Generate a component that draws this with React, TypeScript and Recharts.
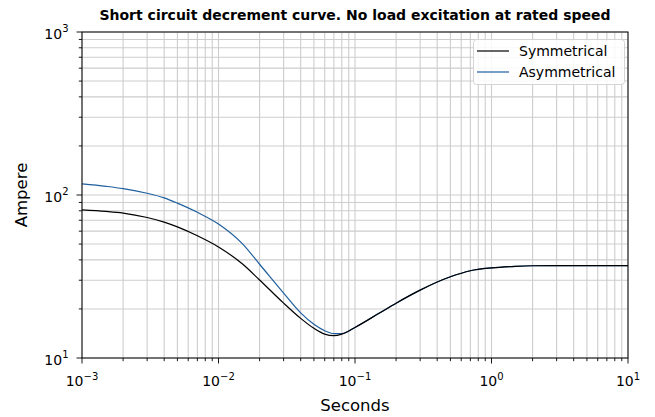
import { CartesianGrid, Line, LineChart, XAxis, YAxis } from "recharts";

const seconds = [
  0.001, 0.0015, 0.002, 0.003, 0.004, 0.005, 0.007, 0.01, 0.015, 0.02, 0.03, 0.04, 0.05, 0.06,
  0.07, 0.08, 0.1, 0.15, 0.2, 0.3, 0.5, 0.7, 1, 1.5, 2, 3, 5, 10,
];
const symmetrical = [
  81, 79.3, 77.5, 72.8, 68.2, 63.7, 56.2, 48, 37.7, 30.1, 21.7, 17.5, 15.2, 14.0,
  13.7, 14.0, 15.4, 18.8, 21.7, 26.1, 31.5, 34.3, 35.7, 36.5, 36.8, 36.9, 36.9, 36.9,
];
const asymmetrical = [
  117, 113, 109.5, 102.5, 96, 89.1, 78.3, 66.3, 50.1, 37.6, 25.0, 18.9, 16.1, 14.7,
  14.1, 14.1, 15.4, 18.8, 21.7, 26.1, 31.5, 34.3, 35.7, 36.5, 36.8, 36.9, 36.9, 36.9,
];

const xDecades = [-3, -2, -1, 0];
const yDecades = [1, 2];
const minorSteps = [1, 2, 3, 4, 5, 6, 7, 8, 9];

const buildTicks = (decades: number[], last: number) => [
  ...decades.flatMap((e) => minorSteps.map((k) => Number((k * Math.pow(10, e)).toPrecision(6)))),
  last,
];
const xTicks = buildTicks(xDecades, 10);
const yTicks = buildTicks(yDecades, 1000);

const data = seconds.map((t, i) => ({ t, sym: symmetrical[i], asym: asymmetrical[i] }));

const legendItems = [
  { label: "Symmetrical", color: "#000" },
  { label: "Asymmetrical", color: "#1f5f9f" },
];

const W = 655;
const H = 417;
const M = { top: 32, right: 27, bottom: 0, left: 0 };
const X_H = 59;
const Y_W = 82;
const PLOT = { x: M.left + Y_W, y: M.top, w: W - M.left - Y_W - M.right, h: H - M.top - X_H };

const FONT = "'DejaVu Sans', sans-serif";
const BLUE = "#1f5f9f";

const exponentOf = (v: number) => {
  const e = Math.log10(v);
  return Math.abs(e - Math.round(e)) < 1e-6 ? Math.round(e) : null;
};
const fmtExp = (e: number) => (e < 0 ? `\u2212${-e}` : `${e}`);

const XTick = ({ x, y, payload }: any) => {
  const e = exponentOf(payload.value);
  const len = e === null ? 3.2 : 5.5;
  return (
    <g>
      <line x1={x} x2={x} y1={y} y2={y + len} stroke="#000" strokeWidth={0.9} />
      {e !== null && (
        <text x={x} y={y + 28} textAnchor="middle" fontFamily={FONT} fontSize={14} fill="#000">
          10
          <tspan dy={-6.5} fontSize={10}>
            {fmtExp(e)}
          </tspan>
        </text>
      )}
    </g>
  );
};

const YTick = ({ x, y, payload }: any) => {
  const e = exponentOf(payload.value);
  const len = e === null ? 3.2 : 5.5;
  return (
    <g>
      <line x1={x} x2={x - len} y1={y} y2={y} stroke="#000" strokeWidth={0.9} />
      {e !== null && (
        <text x={x - 13.5} y={y + 6.5} textAnchor="end" fontFamily={FONT} fontSize={14} fill="#000">
          10
          <tspan dy={-6.5} fontSize={10}>
            {e}
          </tspan>
        </text>
      )}
    </g>
  );
};

export default function App() {
  return (
    <div style={{ position: "relative", width: W, height: H, background: "#fff" }}>
      <style>{`body{margin:0}`}</style>
      <LineChart width={W} height={H} data={data} margin={M}>
        <CartesianGrid stroke="#cdcdcd" strokeWidth={1.1} horizontal vertical />
        <XAxis
          dataKey="t"
          type="number"
          scale="log"
          domain={[0.001, 10]}
          ticks={xTicks}
          interval={0}
          allowDataOverflow
          axisLine={false}
          tickLine={false}
          tickSize={0}
          tickMargin={0}
          height={X_H}
          tick={<XTick />}
        />
        <YAxis
          type="number"
          scale="log"
          domain={[10, 1000]}
          ticks={yTicks}
          interval={0}
          allowDataOverflow
          axisLine={false}
          tickLine={false}
          tickSize={0}
          tickMargin={0}
          width={Y_W}
          tick={<YTick />}
        />
        <Line dataKey="asym" name="Asymmetrical" stroke={BLUE} strokeWidth={1.2} dot={false} type="monotone" isAnimationActive={false} />
        <Line dataKey="sym" name="Symmetrical" stroke="#000" strokeWidth={1.2} dot={false} type="monotone" isAnimationActive={false} />
      </LineChart>

      <svg width={W} height={H} style={{ position: "absolute", left: 0, top: 0, pointerEvents: "none" }} fontFamily={FONT}>
        <rect x={PLOT.x} y={PLOT.y} width={PLOT.w} height={PLOT.h} fill="none" stroke="#000" strokeWidth={1} />

        <text x={PLOT.x + PLOT.w / 2} y={20} textAnchor="middle" fontSize={14} fontWeight="bold" fill="#000">
          Short circuit decrement curve. No load excitation at rated speed
        </text>
        <text x={PLOT.x + PLOT.w / 2} y={411} textAnchor="middle" fontSize={16.5} fill="#000">
          Seconds
        </text>
        <text
          x={27}
          y={PLOT.y + PLOT.h / 2}
          textAnchor="middle"
          fontSize={16.5}
          fill="#000"
          transform={`rotate(-90 27 ${PLOT.y + PLOT.h / 2})`}
        >
          Ampere
        </text>

        <g>
          <rect x={473.5} y={39.5} width={151} height={45} rx={3} fill="rgba(255,255,255,0.85)" stroke="#d4d4d4" strokeWidth={1} />
          {legendItems.map((item, i) => (
            <g key={item.label}>
              <line x1={477} x2={509} y1={51 + i * 21} y2={51 + i * 21} stroke={item.color} strokeWidth={1.2} />
              <text x={519} y={56 + i * 21} fontSize={14} fill="#000">
                {item.label}
              </text>
            </g>
          ))}
        </g>
      </svg>
    </div>
  );
}
